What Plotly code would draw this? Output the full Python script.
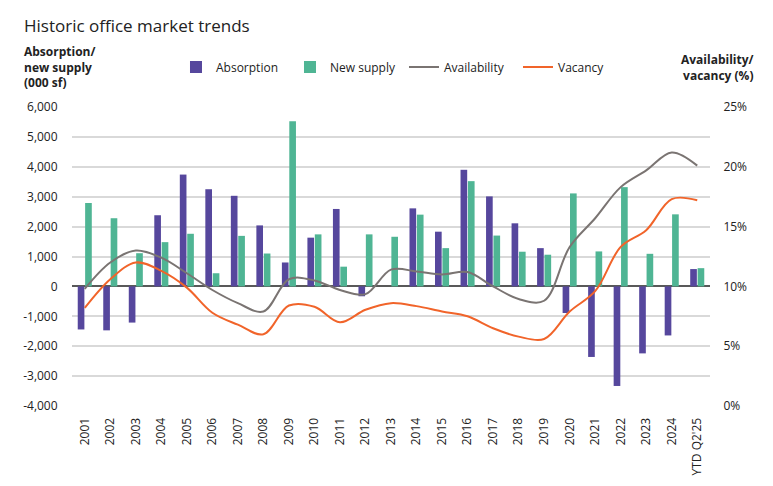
import plotly.graph_objects as go

categories = ["2001", "2002", "2003", "2004", "2005", "2006", "2007", "2008", "2009", "2010",
              "2011", "2012", "2013", "2014", "2015", "2016", "2017", "2018", "2019", "2020",
              "2021", "2022", "2023", "2024", "YTD Q2'25"]

absorption = [-1440, -1470, -1210, 2380, 3740, 3250, 3030, 2040, 800, 1630,
              2590, -330, 0, 2610, 1830, 3900, 3010, 2110, 1280, -890,
              -2360, -3330, -2240, -1640, 580]

new_supply = [2790, 2280, 1110, 1480, 1760, 440, 1690, 1100, 5520, 1740,
              660, 1740, 1660, 2400, 1280, 3520, 1700, 1160, 1060, 3110,
              1170, 3320, 1090, 2410, 610]

availability = [9.8, 12.0, 13.0, 12.4, 11.1, 9.7, 8.6, 7.9, 10.6, 10.5,
                9.7, 9.35, 11.4, 11.25, 11.0, 11.2, 10.0, 8.95, 8.8, 13.3,
                15.7, 18.3, 19.7, 21.2, 20.1]

vacancy = [8.2, 10.6, 12.0, 11.3, 9.9, 7.8, 6.8, 6.0, 8.4, 8.3,
           7.0, 8.05, 8.6, 8.35, 7.9, 7.5, 6.5, 5.8, 5.6, 7.9,
           9.6, 13.3, 14.7, 17.3, 17.2]

left_ticks = [-4000, -3000, -2000, -1000, 0, 1000, 2000, 3000, 4000, 5000, 6000]
left_tick_text = ["-4,000", "-3,000", "-2,000", "-1,000", "0", "1,000", "2,000", "3,000", "4,000", "5,000", "6,000"]
right_ticks = [0, 5, 10, 15, 20, 25]
right_tick_text = ["0%", "5%", "10%", "15%", "20%", "25%"]

PURPLE = "#56479d"
GREEN = "#4fb594"
GRAY = "#7a7472"
ORANGE = "#f1642a"
FONT = "Open Sans"
TXT = "#222222"

fig = go.Figure()
fig.add_trace(go.Bar(x=categories, y=absorption, name="Absorption", marker_color=PURPLE,
                     marker_line_width=0))
fig.add_trace(go.Bar(x=categories, y=new_supply, name="New supply", marker_color=GREEN,
                     marker_line_width=0))
fig.add_trace(go.Scatter(x=categories, y=availability, name="Availability", yaxis="y2",
                         mode="lines", line=dict(color=GRAY, width=2, shape="spline", smoothing=1.0)))
fig.add_trace(go.Scatter(x=categories, y=vacancy, name="Vacancy", yaxis="y2",
                         mode="lines", line=dict(color=ORANGE, width=2, shape="spline", smoothing=1.0)))

fig.update_layout(
    width=773, height=486,
    margin=dict(l=72, r=63, t=107, b=80, autoexpand=False),
    paper_bgcolor="white", plot_bgcolor="white",
    font=dict(family=FONT, size=12, color=TXT),
    barmode="group", bargap=0.42, bargroupgap=0.1,
    showlegend=True,
    legend=dict(orientation="h", x=0.163, y=1.134, xanchor="left", yanchor="middle",
                font=dict(family=FONT, size=12, color=TXT), bgcolor="rgba(0,0,0,0)",
                traceorder="normal", entrywidth=69, entrywidthmode="pixels"),
    xaxis=dict(type="category", tickangle=-90, showgrid=False, showline=False,
               ticks="outside", ticklen=6, tickcolor="rgba(0,0,0,0)",
               tickfont=dict(family=FONT, size=12, color=TXT),
               range=[-0.5, len(categories) - 0.5]),
    yaxis=dict(range=[-4000, 6000], tickvals=left_ticks, ticktext=left_tick_text,
               showgrid=True, gridcolor="#d9d9d9", gridwidth=1.5,
               zeroline=True, zerolinecolor="#595959", zerolinewidth=1.5,
               showline=False, ticks="outside", ticklen=11, tickcolor="rgba(0,0,0,0)",
               tickfont=dict(family=FONT, size=12, color=TXT)),
    yaxis2=dict(range=[0, 25], tickvals=right_ticks, ticktext=right_tick_text,
                overlaying="y", side="right", showgrid=False, zeroline=False,
                showline=False, ticks="outside", ticklen=10, tickcolor="rgba(0,0,0,0)",
                tickfont=dict(family=FONT, size=12, color=TXT)),
)

fig.add_annotation(text="Historic office market trends", xref="paper", yref="paper",
                   x=(22 - 72) / 638, y=(406 - 26) / 299, xanchor="left", yanchor="middle",
                   showarrow=False, font=dict(family=FONT, size=17, color=TXT))
fig.add_annotation(text="<b>Absorption/<br>new supply<br>(000 sf)</b>", xref="paper", yref="paper",
                   x=(22 - 72) / 638, y=(406 - 67) / 299, xanchor="left", yanchor="middle",
                   align="left", showarrow=False, font=dict(family=FONT, size=12, color=TXT))
fig.add_annotation(text="<b>Availability/<br>vacancy (%)</b>", xref="paper", yref="paper",
                   x=(756 - 72) / 638, y=(406 - 67) / 299, xanchor="right", yanchor="middle",
                   align="right", showarrow=False, font=dict(family=FONT, size=12, color=TXT))

fig.write_html("out.html", post_script="document.body.style.margin='0';",
               config={"displayModeBar": False})
